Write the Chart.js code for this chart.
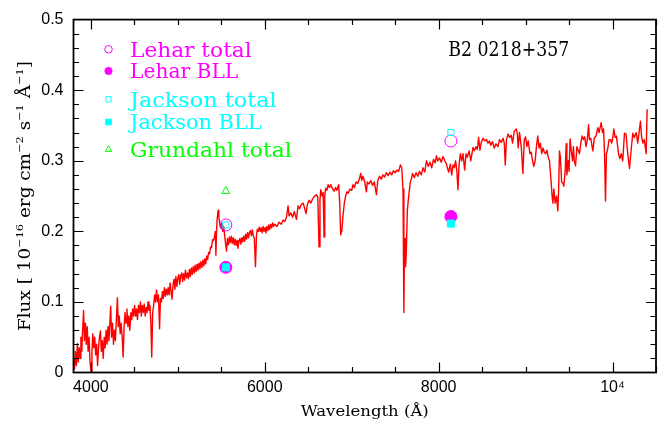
<!DOCTYPE html>
<html>
<head>
<meta charset="utf-8">
<title>B2 0218+357</title>
<script src="https://cdn.jsdelivr.net/npm/chart.js@4.4.1/dist/chart.umd.min.js"></script>
<style>
  html, body { margin: 0; padding: 0; background: #ffffff; }
  canvas { display: block; }
</style>
</head>
<body>
<canvas id="spec" width="663" height="422"></canvas>
<script>
// Optical spectrum of B2 0218+357: wavelength (Å) and flux (1e-16 erg/cm2/s/Å)
const wavelength = [
  3800,3812,3822,3833,3845,3855,3866,3876,3885,3895,
  3905,3916,3926,3937,3947,3958,3968,3979,3990,4002,
  4012,4022,4033,4044,4055,4066,4077,4088,4099,4110,
  4120,4131,4142,4153,4164,4175,4186,4197,4208,4218,
  4228,4238,4249,4260,4271,4282,4293,4305,4315,4326,
  4337,4348,4360,4371,4382,4393,4404,4415,4426,4437,
  4448,4460,4470,4481,4492,4503,4514,4525,4536,4547,
  4558,4570,4580,4591,4602,4613,4624,4635,4646,4657,
  4668,4679,4690,4700,4711,4722,4733,4744,4755,4766,
  4777,4790,4800,4812,4823,4834,4845,4856,4867,4878,
  4889,4900,4911,4922,4933,4945,4956,4967,4978,4989,
  5000,5011,5022,5033,5044,5055,5066,5077,5088,5100,
  5111,5122,5133,5144,5155,5166,5177,5188,5199,5210,
  5221,5232,5243,5254,5265,5277,5288,5299,5310,5321,
  5332,5343,5354,5365,5376,5388,5399,5410,5421,5432,
  5438,5445,5452,5464,5472,5483,5494,5505,5516,5527,
  5538,5549,5560,5571,5582,5593,5604,5615,5626,5637,
  5648,5659,5670,5681,5692,5703,5714,5725,5736,5747,
  5758,5769,5780,5791,5802,5813,5824,5835,5846,5857,
  5868,5880,5893,5905,5915,5926,5937,5948,5959,5970,
  5981,5992,6003,6014,6025,6036,6047,6058,6069,6080,
  6091,6102,6115,6140,6165,6190,6210,6230,6250,6268,
  6280,6300,6320,6340,6364,6383,6400,6420,6441,6460,
  6475,6490,6510,6530,6550,6575,6595,6610,6624,6635,
  6644,6660,6672,6682,6690,6700,6715,6728,6745,6760,
  6780,6800,6815,6830,6850,6862,6873,6885,6900,6915,
  6930,6945,6960,6980,7000,7015,7030,7050,7070,7090,
  7103,7115,7130,7150,7169,7180,7200,7220,7240,7260,
  7284,7300,7320,7340,7360,7380,7398,7420,7440,7460,
  7480,7500,7520,7540,7560,7575,7590,7600,7608,7614,
  7620,7628,7640,7659,7675,7686,7700,7720,7740,7760,
  7780,7800,7820,7840,7860,7880,7900,7920,7940,7960,
  7975,7990,8011,8030,8050,8070,8088,8100,8115,8134,
  8150,8165,8180,8195,8210,8222,8235,8250,8265,8280,
  8299,8315,8330,8350,8370,8395,8410,8430,8445,8460,
  8475,8490,8510,8530,8550,8567,8585,8600,8620,8640,
  8660,8682,8700,8720,8740,8755,8766,8780,8800,8816,
  8835,8850,8870,8893,8905,8915,8930,8950,8969,8985,
  9000,9015,9030,9050,9065,9080,9095,9110,9125,9140,
  9155,9170,9185,9200,9215,9230,9245,9260,9275,9295,
  9305,9314,9325,9340,9355,9371,9380,9390,9400,9415,
  9429,9440,9455,9467,9475,9490,9500,9512,9525,9540,
  9550,9560,9575,9590,9605,9620,9635,9650,9665,9680,
  9695,9710,9724,9735,9750,9765,9774,9790,9810,9831,
  9845,9869,9885,9897,9908,9919,9930,9945,9960,9977,
  9990,10000,10015,10030,10045,10069,10085,10100,10118,10137,
  10155,10175,10195,10210,10233,10250,10272,10290,10305,10321,
  10335,10350,10365,10387,10398
];
const flux = [
  .020,.005,.030,.010,.041,.015,.035,.020,.050,.030,
  .060,.088,.045,.070,.040,.065,.030,.050,.015,.000,
  .030,.055,.035,.050,.025,.040,.010,.035,.050,.059,
  .030,.045,.020,.050,.035,.060,.040,.065,.045,.070,
  .094,.050,.070,.040,.060,.045,.075,.106,.065,.080,
  .055,.070,.050,.022,.065,.085,.070,.090,.065,.080,
  .060,.085,.075,.090,.080,.095,.080,.090,.075,.095,
  .085,.100,.080,.095,.085,.097,.080,.092,.085,.100,
  .088,.095,.070,.022,.085,.095,.110,.100,.117,.100,
  .110,.062,.105,.100,.115,.105,.120,.108,.118,.110,
  .120,.110,.127,.115,.104,.124,.132,.118,.136,.122,
  .133,.139,.125,.137,.141,.129,.140,.131,.145,.134,
  .141,.133,.146,.136,.148,.139,.150,.141,.152,.143,
  .153,.145,.155,.147,.157,.149,.159,.151,.161,.154,
  .165,.160,.170,.168,.178,.177,.188,.187,.192,.200,
  .166,.200,.217,.230,.220,.210,.205,.212,.200,.207,
  .195,.183,.172,.190,.181,.192,.184,.193,.183,.191,
  .181,.189,.180,.187,.176,.186,.190,.182,.191,.185,
  .193,.186,.196,.189,.198,.191,.199,.201,.194,.202,
  .194,.190,.150,.195,.203,.200,.206,.200,.205,.198,
  .207,.200,.205,.198,.207,.201,.209,.203,.210,.205,
  .212,.207,.210,.207,.213,.210,.216,.214,.220,.236,
  .222,.226,.220,.228,.217,.236,.232,.238,.240,.232,
  .225,.238,.244,.240,.246,.250,.252,.248,.178,.245,
  .259,.250,.255,.192,.250,.261,.258,.266,.262,.266,
  .260,.257,.262,.258,.266,.240,.195,.200,.222,.240,
  .250,.256,.254,.260,.258,.266,.262,.270,.268,.275,
  .282,.272,.278,.270,.256,.270,.267,.272,.265,.270,
  .252,.272,.278,.274,.280,.277,.283,.279,.284,.280,
  .286,.283,.287,.285,.294,.290,.260,.085,.190,.190,
  .150,.170,.230,.254,.270,.274,.282,.276,.283,.278,
  .285,.280,.290,.284,.300,.292,.298,.290,.302,.297,
  .307,.300,.304,.298,.306,.300,.296,.290,.284,.295,
  .280,.294,.290,.300,.285,.259,.295,.310,.300,.310,
  .287,.310,.305,.314,.300,.319,.314,.320,.316,.333,
  .315,.326,.332,.328,.330,.325,.328,.322,.327,.318,
  .324,.320,.330,.326,.332,.325,.294,.330,.338,.333,
  .336,.325,.342,.345,.338,.318,.340,.320,.282,.330,
  .334,.320,.328,.310,.312,.300,.292,.300,.320,.335,
  .318,.325,.310,.318,.312,.310,.315,.305,.300,.268,
  .250,.240,.260,.240,.250,.229,.260,.314,.305,.270,
  .268,.264,.285,.324,.280,.300,.285,.331,.315,.300,
  .320,.300,.293,.320,.315,.310,.325,.335,.330,.334,
  .320,.330,.351,.330,.332,.320,.314,.332,.335,.347,
  .340,.354,.340,.345,.310,.243,.310,.317,.330,.330,
  .325,.330,.345,.333,.335,.310,.303,.310,.300,.339,
  .338,.310,.289,.310,.339,.333,.340,.325,.340,.356,
  .333,.325,.330,.310,.373
];

// Broad-band photometry points
const photWavelength = [5552, 8141];
const leharTotal = [0.209, 0.328];
const leharBLL = [0.149, 0.221];
const jacksonTotal = [0.209, 0.340];
const jacksonBLL = [0.149, 0.211];
const grundahlWavelength = [5552];
const grundahlTotal = [0.257];

// Axis ticks and captions
const xTickValues = [4000, 6000, 8000, 10000];
const xTickLabels = ['4000', '6000', '8000', '10\u2074'];
const yTickValues = [0, 0.1, 0.2, 0.3, 0.4, 0.5];
const yTickLabels = ['0', '0.1', '0.2', '0.3', '0.4', '0.5'];
const xTitle = [['Wavelength (\u00c5)', false]];
const yTitle = [['Flux [ 10', false], ['\u221216', true], [' erg cm', false], ['\u22122', true],
                [' s', false], ['\u22121', true], [' \u00c5', false], ['\u22121', true], [']', false]];
const objectName = 'B2 0218+357';
const legendLabels = ['Lehar total', 'Lehar BLL', 'Jackson total', 'Jackson BLL', 'Grundahl total'];

const RED = '#ff0000', MAGENTA = '#ff00ff', CYAN = '#00ffff', GREEN = '#00ff00';
const SERIF = "'DejaVu Serif', 'Liberation Serif', serif";

const pairs = (xs, ys) => xs.map((x, i) => ({ x: x, y: ys[i] }));

// marker shapes for the in-plot key
function drawMarker(ctx, style, x, y, r, color, filled) {
  ctx.save();
  ctx.strokeStyle = color;
  ctx.fillStyle = color;
  ctx.lineWidth = 1;
  ctx.beginPath();
  if (style === 'circle') {
    ctx.arc(x, y, r, 0, Math.PI * 2);
  } else if (style === 'rect') {
    ctx.rect(x - r, y - r, 2 * r, 2 * r);
  } else if (style === 'triangle') {
    const h = r * 0.866;
    ctx.moveTo(x, y - r);
    ctx.lineTo(x + h, y + r * 0.5);
    ctx.lineTo(x - h, y + r * 0.5);
    ctx.closePath();
  }
  if (filled) ctx.fill();
  ctx.stroke();
  ctx.restore();
}

// serif lettering, squeezed or widened to a given run length;
// parts are [text, isSuperscript]
function caption(ctx, parts, x, y, size, width, color, align, angle) {
  ctx.save();
  ctx.translate(x, y);
  if (angle) ctx.rotate(angle);
  const fontFor = sup => (sup ? size * 0.62 : size) + 'px ' + SERIF;
  let natural = 0;
  parts.forEach(p => { ctx.font = fontFor(p[1]); natural += ctx.measureText(p[0]).width; });
  const sx = width ? width / natural : 1;
  ctx.scale(sx, 1);
  let cx = align === 'center' ? -natural / 2 : 0;
  ctx.fillStyle = color;
  ctx.textAlign = 'left';
  ctx.textBaseline = 'alphabetic';
  parts.forEach(p => {
    ctx.font = fontFor(p[1]);
    ctx.fillText(p[0], cx, p[1] ? -size * 0.45 : 0);
    cx += ctx.measureText(p[0]).width;
  });
  ctx.restore();
}

const framePlugin = {
  id: 'frameTicks',
  afterDatasetsDraw(chart) {
    const { ctx, chartArea: a, scales } = chart;
    const xs = scales.x, ys = scales.y;
    ctx.save();
    ctx.strokeStyle = '#000000';
    ctx.lineWidth = 1.2;
    ctx.beginPath();
    // wavelength ticks every 500 Å, long ones at labelled values
    for (let v = 4000; v <= 10500; v += 500) {
      const px = Math.round(xs.getPixelForValue(v)) + 0.5;
      const len = (v % 2000 === 0) ? 10 : 5.5;
      ctx.moveTo(px, a.bottom); ctx.lineTo(px, a.bottom - len);
      ctx.moveTo(px, a.top); ctx.lineTo(px, a.top + len);
    }
    // flux ticks every 0.02
    for (let k = 1; k < 25; k++) {
      const py = Math.round(ys.getPixelForValue(k * 0.02)) + 0.5;
      const len = (k % 5 === 0) ? 10 : 5.5;
      ctx.moveTo(a.left, py); ctx.lineTo(a.left + len, py);
      ctx.moveTo(a.right, py); ctx.lineTo(a.right - len, py);
    }
    ctx.stroke();
    ctx.lineWidth = 1.8;
    ctx.strokeRect(a.left, a.top, a.right - a.left, a.bottom - a.top);
    ctx.restore();
  },
  afterDraw(chart) {
    const { ctx, chartArea: a } = chart;
    // key in the upper left corner
    const keyStyle = [
      ['circle', 3.8, MAGENTA, false],
      ['circle', 3.6, MAGENTA, true],
      ['rect', 2.6, CYAN, false],
      ['rect', 2.8, CYAN, true],
      ['triangle', 3.8, GREEN, false]
    ];
    const keyRows = [49.3, 71, 99.3, 122, 149.5];
    const keyWidths = [121.7, 108.3, 146.7, 131.7, 161.7];
    const keyColors = [MAGENTA, MAGENTA, CYAN, CYAN, GREEN];
    legendLabels.forEach((label, i) => {
      const s = keyStyle[i];
      drawMarker(ctx, s[0], 108.5, keyRows[i], s[1], s[2], s[3]);
      caption(ctx, [[label, false]], 130, keyRows[i] + 7.4, 20.5, keyWidths[i], keyColors[i], 'left', 0);
    });
    caption(ctx, [[objectName, false]], 448.3, 56.3, 20.5, 121, '#000000', 'left', 0);
    // axis captions
    caption(ctx, xTitle, (a.left + a.right) / 2, 415.5, 15.5, 128, '#000000', 'center', 0);
    caption(ctx, yTitle, 30, (a.top + a.bottom) / 2, 16, 270, '#000000', 'center', -Math.PI / 2);
  }
};

new Chart(document.getElementById('spec'), {
  type: 'scatter',
  data: {
    datasets: [
      {
        label: 'Jackson BLL', data: pairs(photWavelength, jacksonBLL),
        pointStyle: 'rect', pointRadius: 5, borderWidth: 1,
        backgroundColor: CYAN, borderColor: CYAN, order: 1
      },
      {
        label: 'Jackson total', data: pairs(photWavelength, jacksonTotal),
        pointStyle: 'rect', pointRadius: 4.3, borderWidth: 1,
        backgroundColor: 'rgba(0,0,0,0)', borderColor: CYAN, order: 2
      },
      {
        label: 'Lehar BLL', data: pairs(photWavelength, leharBLL),
        pointStyle: 'circle', pointRadius: 6, borderWidth: 1,
        backgroundColor: MAGENTA, borderColor: MAGENTA, order: 3
      },
      {
        label: 'Lehar total', data: pairs(photWavelength, leharTotal),
        pointStyle: 'circle', pointRadius: 6, borderWidth: 1,
        backgroundColor: 'rgba(0,0,0,0)', borderColor: MAGENTA, order: 4
      },
      {
        label: 'Grundahl total', data: pairs(grundahlWavelength, grundahlTotal),
        pointStyle: 'triangle', pointRadius: 4.6, borderWidth: 1,
        backgroundColor: 'rgba(0,0,0,0)', borderColor: GREEN, order: 5
      },
      {
        label: 'spectrum', data: pairs(wavelength, flux),
        showLine: true, pointRadius: 0, pointHoverRadius: 0,
        borderColor: RED, borderWidth: 1.4, borderJoinStyle: 'round',
        tension: 0, order: 10
      }
    ]
  },
  options: {
    responsive: false,
    animation: false,
    devicePixelRatio: 1,
    events: [],
    layout: { padding: { top: 13.5, right: 6.5, bottom: 0, left: 0 } },
    plugins: { legend: { display: false }, tooltip: { enabled: false } },
    scales: {
      x: {
        type: 'linear', min: 3800, max: 10500,
        grid: { display: false, drawTicks: false },
        border: { display: false },
        afterBuildTicks: s => { s.ticks = xTickValues.map(v => ({ value: v })); },
        afterFit: s => { s.height = 49.5; },
        ticks: {
          autoSkip: false, maxRotation: 0, minRotation: 0, padding: 5,
          color: '#000000',
          font: { family: "'Liberation Sans', Arimo, sans-serif", size: 16 },
          callback: v => { const i = xTickValues.indexOf(v); return i >= 0 ? xTickLabels[i] : ''; }
        }
      },
      y: {
        type: 'linear', min: 0, max: 0.5,
        grid: { display: false, drawTicks: false },
        border: { display: false },
        afterBuildTicks: s => { s.ticks = yTickValues.map(v => ({ value: v })); },
        afterFit: s => { s.width = 73.5; },
        ticks: {
          autoSkip: false, padding: 10,
          color: '#000000',
          font: { family: "'Liberation Sans', Arimo, sans-serif", size: 16 },
          callback: v => { const i = yTickValues.indexOf(v); return i >= 0 ? yTickLabels[i] : ''; }
        }
      }
    }
  },
  plugins: [framePlugin]
});
</script>
</body>
</html>
